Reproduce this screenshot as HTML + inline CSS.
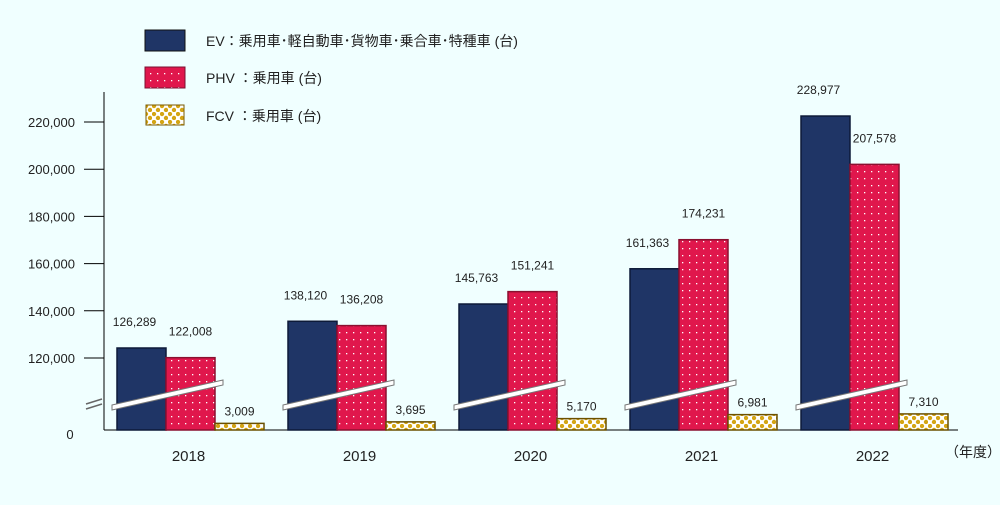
<!DOCTYPE html>
<html><head><meta charset="utf-8"><style>
body{margin:0;background:#f0ffff;font-family:"Liberation Sans","Noto Sans CJK JP",sans-serif;}
svg text{font-family:"Liberation Sans","Noto Sans CJK JP",sans-serif;}
</style></head><body>
<svg id="c" width="1000" height="500" xmlns="http://www.w3.org/2000/svg">
<defs>
<pattern id="dots" width="7" height="7" patternUnits="userSpaceOnUse"><rect width="7" height="7" fill="#e0174c"/><rect x="3" y="3" width="1.3" height="1.3" fill="#fff"/></pattern>
<pattern id="chk" width="8" height="8" patternUnits="userSpaceOnUse"><rect width="8" height="8" fill="#fff"/><circle cx="2" cy="2" r="2.2" fill="#d4a514"/><circle cx="6" cy="6" r="2.2" fill="#d4a514"/></pattern>
</defs>
<g id="legend">
<rect x="145" y="30" width="40" height="21" fill="#1f3566" stroke="#111"/>
<text x="206" y="46" font-size="14" fill="#222">EV：乗用車･軽自動車･貨物車･乗合車･特種車 (台)</text>
<rect x="145" y="67" width="40" height="21" fill="url(#dots)" stroke="#7a1030"/>
<text x="206" y="83" font-size="14" fill="#222">PHV ：乗用車 (台)</text>
<rect x="146" y="105" width="38" height="20" fill="url(#chk)" stroke="#7a5a00"/>
<text x="206" y="121" font-size="14" fill="#222">FCV ：乗用車 (台)</text>
</g>
<g id="axes"></g>
<g id="bars"></g>
</svg>
<script>
const years = ["2018","2019","2020","2021","2022"];
const ev = [126289,138120,145763,161363,228977];
const phv = [122008,136208,151241,174231,207578];
const fcv = [3009,3695,5170,6981,7310];
const yTicks = [120000,140000,160000,180000,200000,220000];
const tickLabels = ["120,000","140,000","160,000","180,000","200,000","220,000"];

const NS="http://www.w3.org/2000/svg";
const svg=document.getElementById('c');
const axes=document.getElementById('axes');
const bars=document.getElementById('bars');
function mk(tag,attrs,parent){const e=document.createElementNS(NS,tag);for(const k in attrs)e.setAttribute(k,attrs[k]);parent.appendChild(e);return e;}
const base=430;
function yTick(v){return 358-(v-120000)*0.00236;}
function yBar(v){return v>=20000 ? 348-(v-126289)*0.002259 : base-v*0.0022;}
function xGroup(i){return 117+171*i;}
const bw=49;

// axes
let a=mk('line',{x1:104,y1:92,x2:104,y2:base,stroke:'#000','stroke-width':1},axes);


a=mk('line',{x1:104,y1:base,x2:958,y2:base,stroke:'#000','stroke-width':1},axes);


yTicks.forEach((v,i)=>{
  const y=yTick(v);
  let t=mk('line',{x1:84,y1:y,x2:104,y2:y,stroke:'#000'},axes);
  
  
  let l=mk('text',{x:75,y:y+5,'font-size':13,'text-anchor':'end',fill:'#222'},axes);
  l.textContent=tickLabels[i];
  
  
});
let z=mk('text',{x:70,y:439,'font-size':13,'text-anchor':'middle',fill:'#222'},axes);
z.textContent='0';


let u=mk('text',{x:945,y:457,'font-size':14,fill:'#222'},axes);
u.textContent='（年度）';


// axis break mark
[[86,404,102,399],[86,409,102,404]].forEach(p=>{
  let b=mk('line',{x1:p[0],y1:p[1],x2:p[2],y2:p[3],stroke:'#666','stroke-width':1.5},axes);
  
  
});

function bar(x,v,fill,stroke,name){
  const y=yBar(v);
  const r=mk('rect',{x:x,y:y,width:bw,height:base-y,fill:fill,stroke:stroke,'stroke-width':1.5},bars);
  
  
  return y;
}
function label(x,y,v){
  const t=mk('text',{x:x,y:y,'font-size':12,'text-anchor':'middle',fill:'#222'},bars);
  t.textContent=v.toLocaleString('en-US');
  
  
}
years.forEach((yr,i)=>{
  const x=xGroup(i);
  const y1=bar(x,ev[i],'#1f3566','#0d1a38','bar-ev-'+yr);
  const y2=bar(x+bw,phv[i],'url(#dots)','#8a1030','bar-phv-'+yr);
  const y3=bar(x+2*bw,fcv[i],'url(#chk)','#6b5000','bar-fcv-'+yr);
  // break slash across EV & PHV
  const s=mk('polygon',{points:`${x-5},${405} ${x+2*bw+8},${380} ${x+2*bw+8},${385} ${x-5},${410}`,fill:'#fff',stroke:'#777','stroke-width':1},bars);
  
  
  label(x+bw/2-7,y1-22,ev[i]);
  label(x+bw*1.5,y2-22,phv[i]);
  label(x+bw*2.5,y3-8,fcv[i]);
  const t=mk('text',{x:x+bw*1.5-2,y:461,'font-size':15,'text-anchor':'middle',fill:'#222'},bars);
  t.textContent=yr;
  
  
});
</script>
</body></html>
